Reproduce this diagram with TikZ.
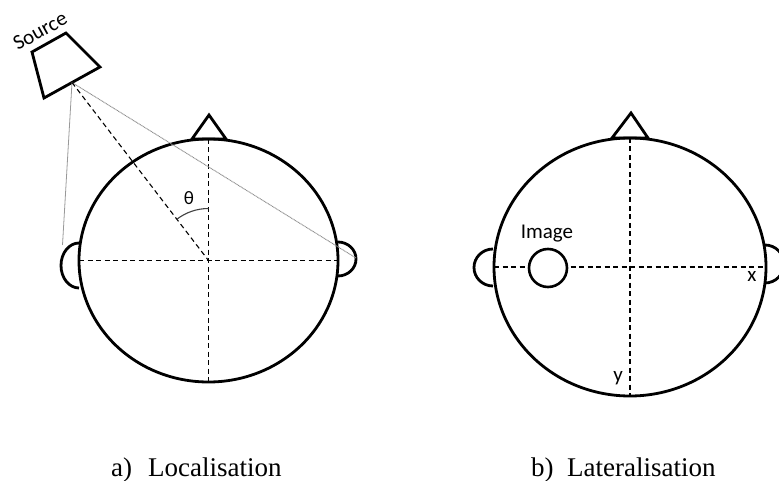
\documentclass[tikz,border=0pt]{standalone}
\usepackage{fontspec}
\setmainfont{Liberation Serif}
\newfontfamily\carl{Carlito}
\usetikzlibrary{shapes.geometric}
\begin{document}
\begin{tikzpicture}[x=1pt,y=-1pt,
  headshape/.style={draw, ellipse, line width=2.8pt, inner sep=0pt, outer sep=0pt},
  outline/.style={line width=2.8pt, line join=miter},
  guide/.style={line width=1.1pt, dash pattern=on 5pt off 3.5pt},
  ray/.style={line width=0.8pt, draw=gray!80},
  dotray/.style={line width=0.9pt, draw=gray!90, dash pattern=on 1pt off 0.6pt},
  lbl/.style={font=\carl\fontsize{21}{24}\selectfont, inner sep=0pt},
  captiontext/.style={font=\fontsize{27}{30}\selectfont, inner sep=0pt, anchor=base west}]
\useasboundingbox (0,0) rectangle (779,481);

% ---------- a) Localisation ----------
\node[headshape, minimum width=259pt, minimum height=243pt] (headA) at (208.5,260.5) {};
% ears
\draw[outline] (79,243) arc[start angle=90, end angle=270, x radius=18pt, y radius=22.5pt];
\draw[outline] (338,242) arc[start angle=90, end angle=-90, x radius=18pt, y radius=17pt];
% nose
\draw[outline] (192,139) -- (209,115) -- (226,139) -- cycle;
% guides
\draw[guide] (headA.north) -- (headA.south);
\draw[guide] (headA.west) -- (headA.east);
% source
\draw[outline] (32,52) -- (66,33) -- (100,67) -- (44,98) -- cycle;
\coordinate (srcpt) at (72,82.5);
\node[lbl, rotate=29] (srclbl) at (40,31) {Source};
\coordinate (earL) at (62.5,245);
\coordinate (earR) at (356,258);
\draw[ray] (srcpt) -- (earL);
\draw[dotray] (srcpt) -- (earR);
\draw[guide] (srcpt) -- (headA.center);
% angle
\draw[line width=1.1pt, draw=black!75] (208.5,208.5) arc[start angle=90, end angle=127.6, radius=52pt];
\node[lbl, font=\carl\fontsize{19}{22}\selectfont] (theta) at (189,198) {θ};

% ---------- b) Lateralisation ----------
\node[headshape, minimum width=272pt, minimum height=258pt] (headB) at (630,267) {};
\draw[outline] (493,249) arc[start angle=90, end angle=270, x radius=19pt, y radius=18.5pt];
\draw[outline] (765,245) arc[start angle=90, end angle=-90, x radius=19pt, y radius=19pt];
\draw[outline] (612,138) -- (631,113) -- (648,138) -- cycle;
\draw[guide] (headB.north) -- (headB.south);
\draw[guide] (headB.west) -- (headB.east);
\node[draw, circle, line width=2.6pt, fill=white, minimum size=38pt, inner sep=0pt] (img) at (548,268) {};
\node[lbl] (imglbl) at (547,234) {Image};
\node[lbl] (xlbl) at (752,276) {x};
\node[lbl] (ylbl) at (618,378) {y};

% ---------- captions ----------
\node[captiontext] (capa) at (111,476) {a)};
\node[captiontext] (capatext) at (148,476) {Localisation};
\node[captiontext] (capb) at (531,476) {b)};
\node[captiontext] (capbtext) at (567,476) {Lateralisation};
\end{tikzpicture}
\end{document}
